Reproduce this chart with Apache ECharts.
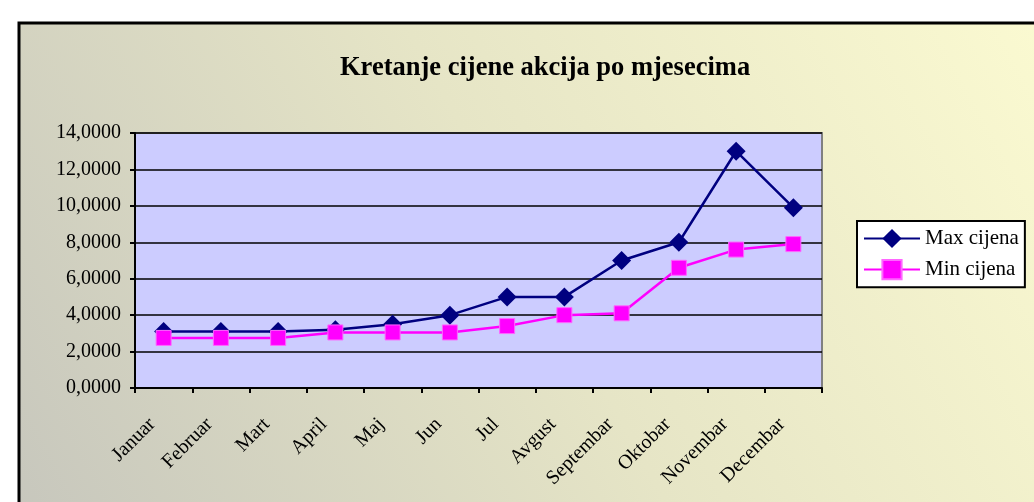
<!DOCTYPE html>
<html lang="hr">
<head>
    <meta charset="UTF-8">
    <title>Kretanje cijene akcija po mjesecima</title>
    <style>
        html, body { margin: 0; padding: 0; background: #ffffff; }
        #myEcharts { width: 1034px; height: 502px; }
    </style>
    <script src="https://cdn.jsdelivr.net/npm/echarts@6/dist/echarts.min.js"></script>
</head>
<body>
<div id="myEcharts"></div>
<script>
    // podaci
    var months = ['Januar', 'Februar', 'Mart', 'April', 'Maj', 'Jun', 'Jul',
        'Avgust', 'Septembar', 'Oktobar', 'Novembar', 'Decembar'];
    var maxCijena = [3.1, 3.1, 3.1, 3.2, 3.5, 4.0, 5.0, 5.0, 7.0, 8.0, 13.0, 9.9];
    var minCijena = [2.75, 2.75, 2.75, 3.05, 3.05, 3.05, 3.4, 4.0, 4.1, 6.6, 7.6, 7.9];

    var serif = 'Liberation Serif, Times New Roman, serif';

    var myChart = echarts.init(document.getElementById('myEcharts'));

    var option = {
        animation: false,
        // pozadina i okvir
        graphic: [{
            type: 'rect',
            z: -10,
            shape: {x: 19, y: 23, width: 1100, height: 600},
            style: {
                fill: new echarts.graphic.LinearGradient(1, 0, 0, 1, [
                    {offset: 0, color: '#fdfcd2'},
                    {offset: 0.5, color: '#e6e5c6'},
                    {offset: 1, color: '#c4c4bc'}
                ]),
                stroke: '#000000',
                lineWidth: 3
            }
        }],
        title: {
            text: 'Kretanje cijene akcija po mjesecima',
            left: 335,
            top: 50,
            textStyle: {
                fontFamily: serif,
                fontSize: 26.5,
                fontWeight: 'bold',
                color: '#000000'
            }
        },
        legend: {
            orient: 'vertical',
            left: 857,
            top: 221,
            padding: [7, 6, 7, 6],
            itemGap: 10,
            itemWidth: 56,
            itemHeight: 24,
            backgroundColor: '#ffffff',
            borderColor: '#000000',
            borderWidth: 2,
            textStyle: {fontFamily: serif, fontSize: 21, color: '#000000'},
            data: ['Max cijena', 'Min cijena']
        },
        grid: {
            left: 135,
            top: 133,
            right: 212,
            bottom: 114,
            show: true,
            backgroundColor: '#ccccff',
            borderColor: '#808080',
            borderWidth: 2
        },
        xAxis: {
            type: 'category',
            data: months,
            boundaryGap: true,
            axisLine: {lineStyle: {color: '#000000', width: 2}},
            axisTick: {show: true, length: 5, lineStyle: {color: '#000000', width: 2}},
            axisLabel: {
                rotate: 45,
                margin: 22,
                padding: [0, 16, 0, 0],
                fontFamily: serif,
                fontSize: 20,
                color: '#000000'
            }
        },
        yAxis: {
            type: 'value',
            min: 0,
            max: 14,
            interval: 2,
            axisLine: {show: true, lineStyle: {color: '#000000', width: 2}},
            axisTick: {show: true, length: 5, lineStyle: {color: '#000000', width: 2}},
            splitLine: {lineStyle: {color: '#000000', width: 1.5}},
            axisLabel: {
                margin: 14,
                fontFamily: serif,
                fontSize: 20,
                color: '#000000',
                formatter: function (v) {
                    return v.toFixed(4).replace('.', ',');
                }
            }
        },
        series: [
            {
                name: 'Max cijena',
                type: 'line',
                data: maxCijena,
                symbol: 'diamond',
                symbolSize: 19,
                color: '#000080',
                lineStyle: {width: 2.5, color: '#000080'},
                itemStyle: {color: '#000080'}
            },
            {
                name: 'Min cijena',
                type: 'line',
                data: minCijena,
                symbol: 'rect',
                symbolSize: 15,
                color: '#ff00ff',
                lineStyle: {width: 2.5, color: '#ff00ff'},
                itemStyle: {color: '#ff00ff', borderColor: '#ff66ff', borderWidth: 1}
            }
        ]
    };

    myChart.setOption(option);
</script>
</body>
</html>
